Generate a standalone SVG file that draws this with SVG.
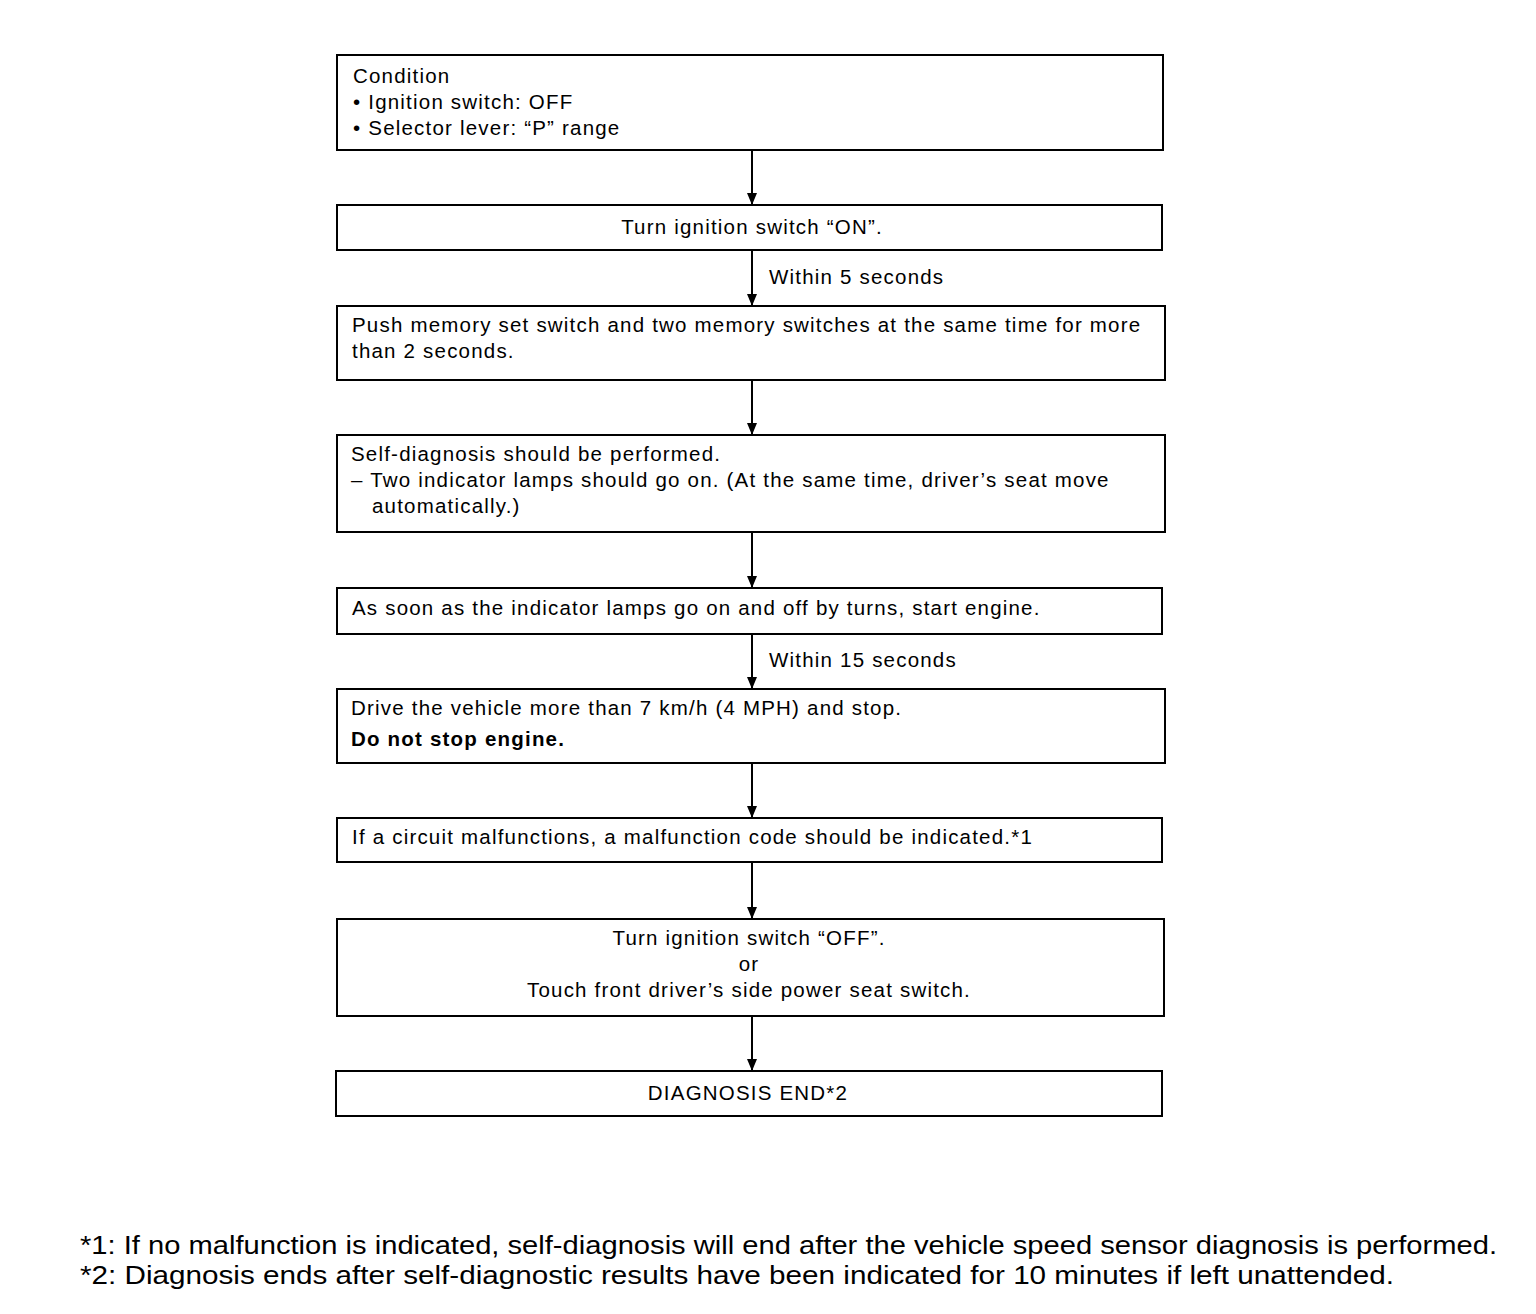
<svg xmlns="http://www.w3.org/2000/svg" width="1536" height="1314" viewBox="0 0 1536 1314">
<defs>
<style>
.box{fill:#fff;stroke:#000;stroke-width:2}
.t{font-family:"Liberation Sans",Arial,sans-serif;font-size:20.5px;letter-spacing:1.2px;fill:#000}
.c{text-anchor:middle}
.b{font-weight:bold}
.fn{font-family:"Liberation Sans",Arial,sans-serif;font-size:25px;fill:#000}
.ln{stroke:#000;stroke-width:2;fill:none}
</style>
<marker id="ah" markerWidth="12" markerHeight="10" refX="12" refY="5" orient="auto" markerUnits="userSpaceOnUse" viewBox="0 0 12 10">
<path d="M0,0 L12,5 L0,10 Z" fill="#000"/>
</marker>
</defs>
<rect width="1536" height="1314" fill="#fff"/>
<g id="n1">
<rect class="box" x="337" y="55" width="826" height="95"/>
<text class="t" x="353" y="83">Condition</text>
<text class="t" x="353" y="109">• Ignition switch: OFF</text>
<text class="t" x="353" y="135">• Selector lever: “P” range</text>
</g>
<g id="n2">
<rect class="box" x="337" y="205" width="825" height="45"/>
<text class="t c" x="752" y="234">Turn ignition switch “ON”.</text>
</g>
<g id="n3">
<rect class="box" x="337" y="306" width="828" height="74"/>
<text class="t" x="352" y="332">Push memory set switch and two memory switches at the same time for more</text>
<text class="t" x="352" y="358">than 2 seconds.</text>
</g>
<g id="n4">
<rect class="box" x="337" y="435" width="828" height="97"/>
<text class="t" x="351" y="461">Self-diagnosis should be performed.</text>
<text class="t" x="351" y="487">– Two indicator lamps should go on. (At the same time, driver’s seat move</text>
<text class="t" x="372" y="513">automatically.)</text>
</g>
<g id="n5">
<rect class="box" x="337" y="588" width="825" height="46"/>
<text class="t" x="352" y="615">As soon as the indicator lamps go on and off by turns, start engine.</text>
</g>
<g id="n6">
<rect class="box" x="337" y="689" width="828" height="74"/>
<text class="t" x="351" y="715">Drive the vehicle more than 7 km/h (4 MPH) and stop.</text>
<text class="t b" x="351" y="746">Do not stop engine.</text>
</g>
<g id="n7">
<rect class="box" x="337" y="818" width="825" height="44"/>
<text class="t" x="352" y="844">If a circuit malfunctions, a malfunction code should be indicated.*1</text>
</g>
<g id="n8">
<rect class="box" x="337" y="919" width="827" height="97"/>
<text class="t c" x="749" y="945">Turn ignition switch “OFF”.</text>
<text class="t c" x="749" y="971">or</text>
<text class="t c" x="749" y="997">Touch front driver’s side power seat switch.</text>
</g>
<g id="n9">
<rect class="box" x="336" y="1071" width="826" height="45"/>
<text class="t c" x="748" y="1100">DIAGNOSIS END*2</text>
</g>
<g id="connectors">
<line class="ln" x1="752" y1="151" x2="752" y2="205" marker-end="url(#ah)"/>
<line class="ln" x1="752" y1="251" x2="752" y2="306" marker-end="url(#ah)"/>
<line class="ln" x1="752" y1="381" x2="752" y2="435" marker-end="url(#ah)"/>
<line class="ln" x1="752" y1="533" x2="752" y2="588" marker-end="url(#ah)"/>
<line class="ln" x1="752" y1="635" x2="752" y2="689" marker-end="url(#ah)"/>
<line class="ln" x1="752" y1="764" x2="752" y2="818" marker-end="url(#ah)"/>
<line class="ln" x1="752" y1="863" x2="752" y2="919" marker-end="url(#ah)"/>
<line class="ln" x1="752" y1="1017" x2="752" y2="1071" marker-end="url(#ah)"/>
<text class="t" x="769" y="284">Within 5 seconds</text>
<text class="t" x="769" y="667">Within 15 seconds</text>
</g>
<g id="notes">
<text class="fn" x="80" y="1254" textLength="1417" lengthAdjust="spacingAndGlyphs">*1: If no malfunction is indicated, self-diagnosis will end after the vehicle speed sensor diagnosis is performed.</text>
<text class="fn" x="80" y="1284" textLength="1314" lengthAdjust="spacingAndGlyphs">*2: Diagnosis ends after self-diagnostic results have been indicated for 10 minutes if left unattended.</text>
</g>
</svg>
